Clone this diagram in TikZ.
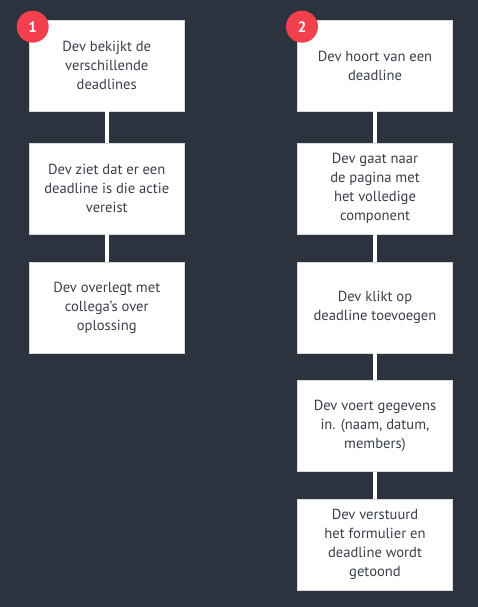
\documentclass[tikz,border=0pt]{standalone}
\usepackage{fontspec}
\setmainfont{PT Sans}
\definecolor{bg}{HTML}{2D333E}
\definecolor{badge}{HTML}{F2404E}
\definecolor{txt}{HTML}{3A404B}
\begin{document}
\begin{tikzpicture}[x=1pt,y=-1pt,
  stepbox/.style={fill=white, draw=white!85!black, line width=0.5pt, minimum width=155pt, minimum height=91pt,
    align=center, text=txt, font=\fontsize{14.6}{19}\selectfont, inner sep=0pt},
  link/.style={white, line width=4pt},
  badgecircle/.style={circle, fill=badge, minimum size=32pt, inner sep=0pt, text=white, font=\bfseries\fontsize{15}{15}\selectfont}]
\fill[bg] (0,0) rectangle (478,607);
\useasboundingbox (0,0) rectangle (478,607);
% left column
\node[stepbox] (l1) at (106.75,65.5) {Dev bekijkt de\\verschillende\\deadlines};
\node[stepbox] (l2) at (106.75,188.5) {Dev ziet dat er een\\deadline is die actie\\vereist};
\node[stepbox] (l3) at (106.75,307.5) {Dev overlegt met\\collega’s over\\oplossing};
% right column
\node[stepbox] (r1) at (375,65.5) {Dev hoort van een\\deadline};
\node[stepbox] (r2) at (375,188.5) {Dev gaat naar\\de pagina met\\het volledige\\component};
\node[stepbox] (r3) at (375,307.5) {Dev klikt op\\deadline toevoegen};
\node[stepbox] (r4) at (375,426) {Dev voert gegevens\\in. (naam, datum,\\members)};
\node[stepbox] (r5) at (375,544.5) {Dev verstuurd\\het formulier en\\deadline wordt\\getoond};
% connectors
\draw[link] (l1.south) -- (l2.north);
\draw[link] (l2.south) -- (l3.north);
\draw[link] (r1.south) -- (r2.north);
\draw[link] (r2.south) -- (r3.north);
\draw[link] (r3.south) -- (r4.north);
\draw[link] (r4.south) -- (r5.north);
% badges
\node[badgecircle] (b1) at (32.7,26.7) {1};
\node[badgecircle] (b2) at (302,26.7) {2};
\end{tikzpicture}
\end{document}
